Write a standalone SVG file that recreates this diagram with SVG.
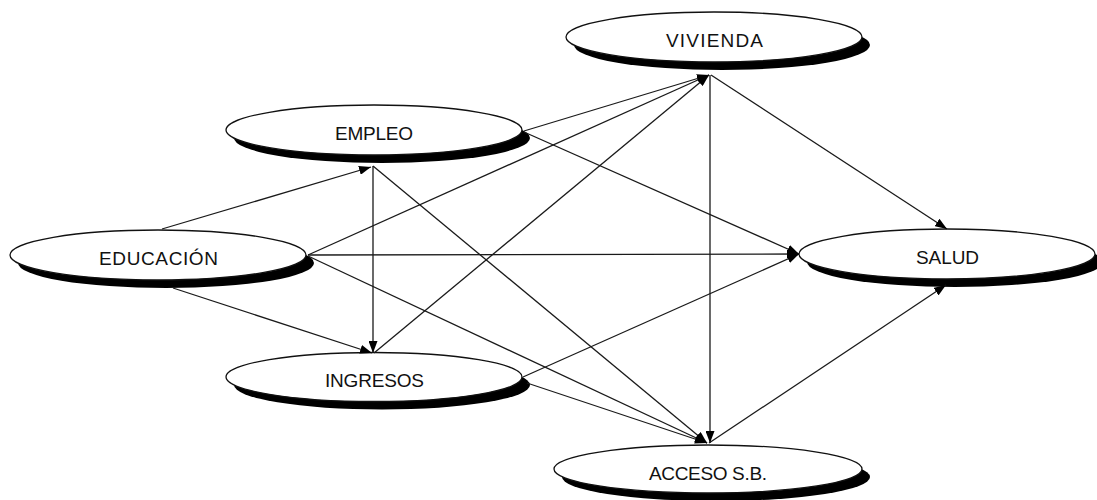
<svg xmlns="http://www.w3.org/2000/svg" width="1097" height="500" viewBox="0 0 1097 500">
<defs>
<style>
.sh{fill:#000;stroke:none}
.el{fill:#fff;stroke:#111;stroke-width:1.3}
.t{font-family:"Liberation Sans",Arial,sans-serif;font-size:19px;fill:#111;text-anchor:middle}
.c line{stroke:#1a1a1a;stroke-width:1.3;marker-end:url(#ah)}
</style>
<marker id="ah" markerUnits="userSpaceOnUse" markerWidth="12" markerHeight="9" refX="12" refY="4.5" orient="auto">
<path d="M0,0 L12,4.5 L0,9 z" fill="#000"/>
</marker>
</defs>
<rect width="1097" height="500" fill="#fff"/>
<g id="vivienda">
<ellipse class="sh" cx="722" cy="45" rx="148" ry="25"/>
<ellipse class="el" cx="714" cy="37" rx="148" ry="25"/>
<text class="t" x="714.5" y="47" textLength="97" lengthAdjust="spacing">VIVIENDA</text>
</g>
<g id="empleo">
<ellipse class="sh" cx="382" cy="138" rx="148" ry="25"/>
<ellipse class="el" cx="374" cy="130" rx="148" ry="25"/>
<text class="t" x="374" y="140" textLength="78" lengthAdjust="spacing">EMPLEO</text>
</g>
<g id="educacion">
<ellipse class="sh" cx="166" cy="263" rx="148" ry="25"/>
<ellipse class="el" cx="158" cy="255" rx="148" ry="25"/>
<text class="t" x="158.5" y="265" textLength="119" lengthAdjust="spacing">EDUCACIÓN</text>
</g>
<g id="salud">
<ellipse class="sh" cx="955" cy="262" rx="148" ry="25"/>
<ellipse class="el" cx="947" cy="254" rx="148" ry="25"/>
<text class="t" x="947.5" y="264" textLength="63" lengthAdjust="spacing">SALUD</text>
</g>
<g id="ingresos">
<ellipse class="sh" cx="382" cy="385" rx="148" ry="24.5"/>
<ellipse class="el" cx="374" cy="377" rx="148" ry="24.5"/>
<text class="t" x="374.5" y="387" textLength="99" lengthAdjust="spacing">INGRESOS</text>
</g>
<g id="acceso">
<ellipse class="sh" cx="716" cy="477" rx="154" ry="24"/>
<ellipse class="el" cx="708" cy="469" rx="154" ry="24"/>
<text class="t" x="708" y="480" textLength="118" lengthAdjust="spacing">ACCESO S.B.</text>
</g>
<g id="connectors" class="c">
<line x1="162" y1="229" x2="371" y2="167"/>
<line x1="173" y1="288" x2="372" y2="353"/>
<line x1="373" y1="166" x2="373" y2="353"/>
<line x1="308" y1="255" x2="709" y2="75"/>
<line x1="308" y1="255" x2="799" y2="254"/>
<line x1="308" y1="256" x2="707" y2="443"/>
<line x1="524" y1="131" x2="709" y2="75"/>
<line x1="524" y1="132" x2="799" y2="254"/>
<line x1="373" y1="166" x2="707" y2="443"/>
<line x1="374" y1="353" x2="709" y2="75"/>
<line x1="523" y1="377" x2="799" y2="254"/>
<line x1="527" y1="383" x2="707" y2="443"/>
<line x1="711" y1="75" x2="947" y2="229"/>
<line x1="710" y1="75" x2="710" y2="443"/>
<line x1="709" y1="443" x2="946" y2="285"/>
</g>
</svg>
